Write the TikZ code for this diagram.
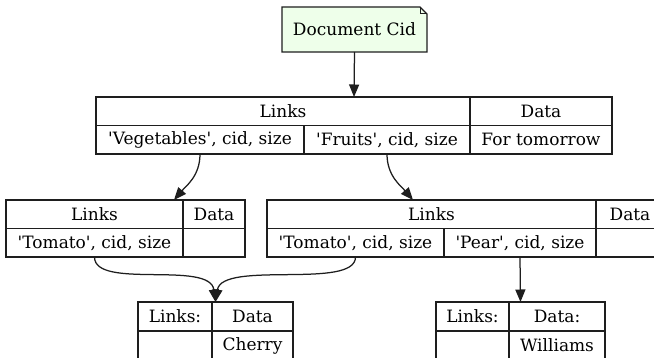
\documentclass[tikz,border=0pt]{standalone}
\usepackage{fontspec}
\setmainfont{DejaVu Serif}[Ligatures=TeXOff]
\usetikzlibrary{arrows.meta,calc}
\definecolor{notefill}{HTML}{EEFFEA}
\definecolor{ink}{HTML}{1E1E1E}
\tikzset{
  cell/.style={draw=ink, line width=1.25pt, fill=white, inner sep=0pt, outer sep=0pt,
    font=\fontsize{17}{20}\selectfont, text=black},
  link/.style={draw=ink, line width=1.25pt, -{Triangle[length=12.5pt,width=10pt]}},
}
\begin{document}
\begin{tikzpicture}[x=1pt,y=-1pt]
\clip (0,0) rectangle (654,358);
\fill[white] (0,0) rectangle (654,358);

% root note with folded corner
\node[inner sep=0pt, outer sep=0pt, minimum width=145pt, minimum height=45pt,
  font=\fontsize{17}{20}\selectfont] (doc) at (354.5,29.5) {};
\draw[ink, line width=1.25pt, fill=notefill, line join=miter]
  (doc.south west) -- (doc.north west) -- ([xshift=-7pt]doc.north east)
  -- ([yshift=-7pt]doc.north east) -- (doc.south east) -- cycle;
\draw[ink, line width=1pt] ([xshift=-7pt]doc.north east) -- ([xshift=-7pt,yshift=-7pt]doc.north east)
  -- ([yshift=-7pt]doc.north east);
\node[inner sep=0pt, font=\fontsize{17}{20}\selectfont] (doctext) at (doc) {Document Cid};

% top table
\node[cell, minimum width=374pt, minimum height=28.5pt] (tLinks) at (283,111.25) {Links};
\node[cell, minimum width=142pt, minimum height=28.5pt] (tData) at (541,111.25) {Data};
\node[cell, minimum width=208pt, minimum height=28.5pt] (tVeg) at (200,139.75) {'Vegetables', cid, size};
\node[cell, minimum width=166pt, minimum height=28.5pt] (tFruit) at (387,139.75) {'Fruits', cid, size};
\node[cell, minimum width=142pt, minimum height=28.5pt] (tMore) at (541,139.75) {For tomorrow};

% left middle table
\node[cell, minimum width=177pt, minimum height=28.5pt] (lLinks) at (94.5,214.25) {Links};
\node[cell, minimum width=62pt, minimum height=28.5pt] (lData) at (214,214.25) {Data};
\node[cell, minimum width=177pt, minimum height=28.5pt] (lTom) at (94.5,242.75) {'Tomato', cid, size};
\node[cell, minimum width=62pt, minimum height=28.5pt] (lEmpty) at (214,242.75) {};

% right middle table
\node[cell, minimum width=329pt, minimum height=28.5pt] (rLinks) at (431.5,214.25) {Links};
\node[cell, minimum width=68pt, minimum height=28.5pt] (rData) at (630,214.25) {Data};
\node[cell, minimum width=177pt, minimum height=28.5pt] (rTom) at (355.5,242.75) {'Tomato', cid, size};
\node[cell, minimum width=152pt, minimum height=28.5pt] (rPear) at (520,242.75) {'Pear', cid, size};
\node[cell, minimum width=68pt, minimum height=28.5pt] (rEmpty) at (630,242.75) {};

% bottom left table
\node[cell, minimum width=74pt, minimum height=29pt] (blLinks) at (175,316.5) {Links:};
\node[cell, minimum width=81pt, minimum height=29pt] (blData) at (252.5,316.5) {Data};
\node[cell, minimum width=74pt, minimum height=29pt] (blEmpty) at (175,345.5) {};
\node[cell, minimum width=81pt, minimum height=29pt] (blCherry) at (252.5,345.5) {Cherry};

% bottom right table
\node[cell, minimum width=73pt, minimum height=29pt] (brLinks) at (472.5,316.5) {Links:};
\node[cell, minimum width=96pt, minimum height=29pt] (brData) at (557,316.5) {Data:};
\node[cell, minimum width=73pt, minimum height=29pt] (brEmpty) at (472.5,345.5) {};
\node[cell, minimum width=96pt, minimum height=29pt] (brWill) at (557,345.5) {Williams};

% connectors
\draw[link] (doc.south) -- ([xshift=71pt]tLinks.north);
\draw[link] (tVeg.south) .. controls +(0,22) and +(12,-14) .. ([xshift=79.5pt]lLinks.north);
\draw[link] (tFruit.south) .. controls +(0,22) and +(-12,-14) .. ([xshift=-18.5pt]rLinks.north);
\draw[link] (lTom.south) .. controls +(0,33) and +(-5.5,-42) .. ($(blLinks.north west)!0.5!(blData.north east)$);
\draw[link] (rTom.south) .. controls +(0,33) and +(6.5,-42) .. ($(blLinks.north west)!0.5!(blData.north east)$);
\draw[link] (rPear.south) -- ($(brLinks.north west)!0.5!(brData.north east)$);
\end{tikzpicture}
\end{document}
